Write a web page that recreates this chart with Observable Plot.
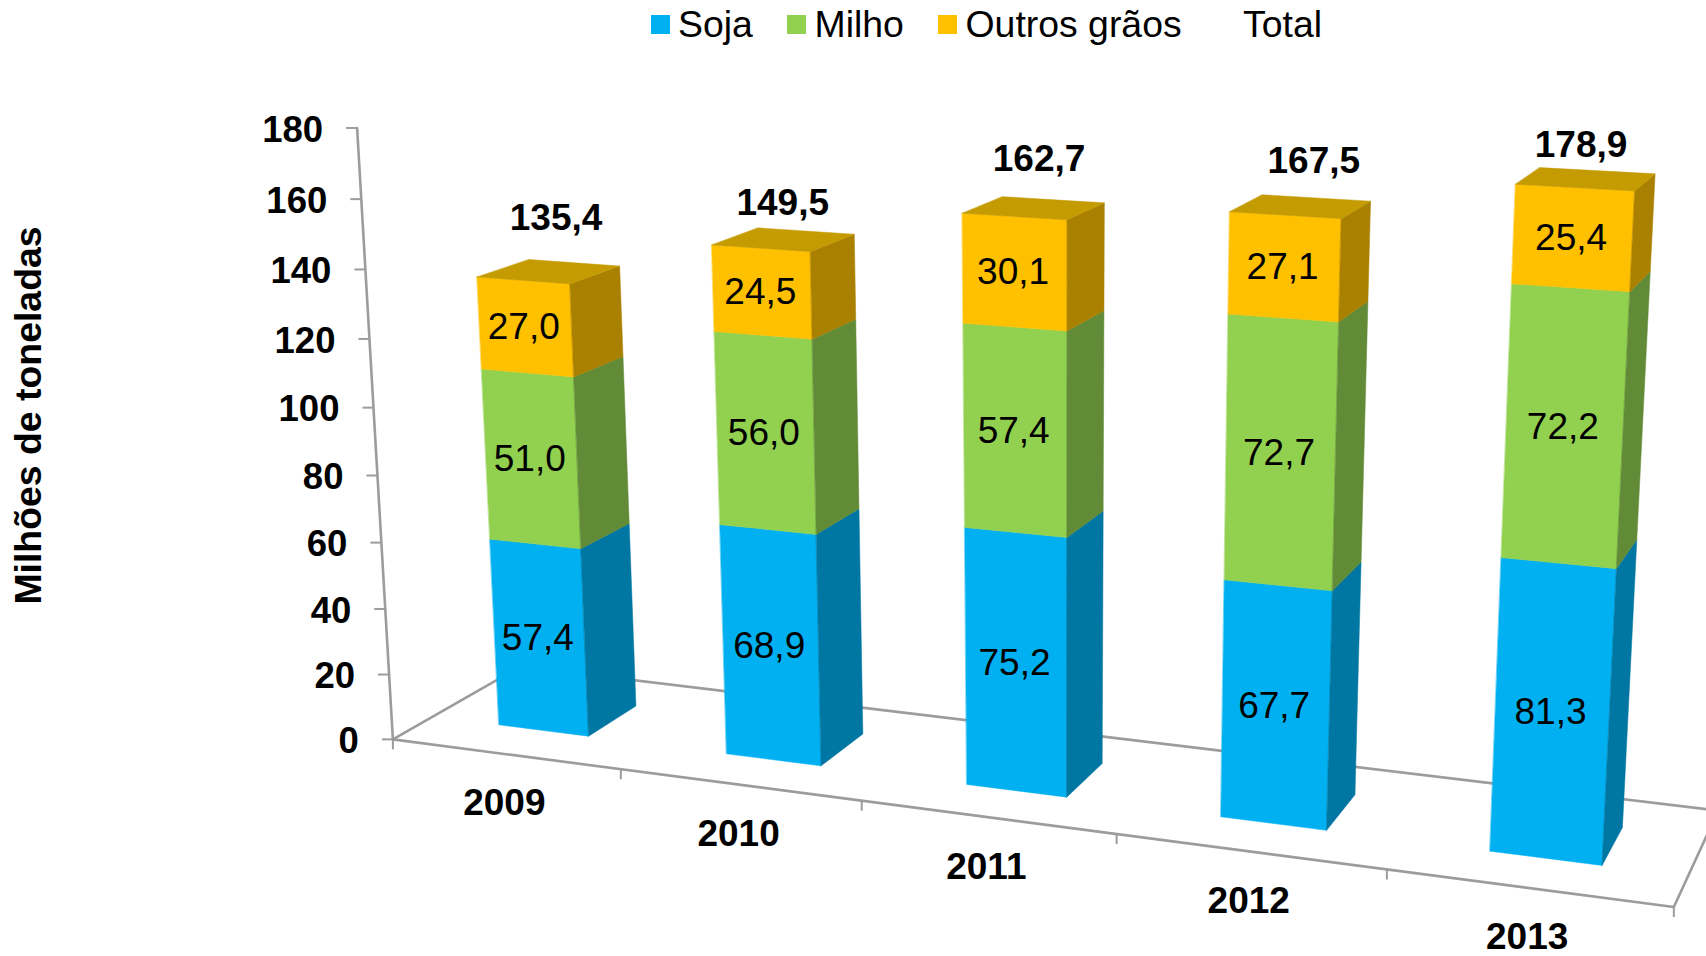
<!DOCTYPE html>
<html><head><meta charset="utf-8">
<script src="https://cdn.jsdelivr.net/npm/d3@7"></script>
<script src="https://cdn.jsdelivr.net/npm/@observablehq/plot@0.6"></script>
<style>html,body{margin:0;background:#fff}
.lg{position:absolute;font:37.4px "Liberation Sans";line-height:40px;top:4px;color:#000;white-space:nowrap}.sw{position:absolute;top:15px;width:19px;height:19px}svg{display:block}</style>
</head><body><div id="c"></div>
<script>
// Data
const years=["2009","2010","2011","2012","2013"];
const soja=[57.4,68.9,75.2,67.7,81.3];
const milho=[51.0,56.0,57.4,72.7,72.2];
const outros=[27.0,24.5,30.1,27.1,25.4];
const totals=[135.4,149.5,162.7,167.5,178.9];
const seriesNames=["Soja","Milho","Outros grãos"];
const seriesValues=[soja,milho,outros];
const yTicks=[0,20,40,60,80,100,120,140,160,180];

// Perspective camera of the 3-D chart: (category slot, value/100, depth) -> page pixels
const camera=[[211.332,-29.989,166.049,392.388],[9.228,-343.279,-23.380,738.865],[-0.0268071,-0.0283544,0.0742617,1]];
const gap=0.3;
function project(X,V,Z){const p=[X,V/100,Z,1],dot=r=>d3.sum(r,(c,i)=>c*p[i]),d=dot(camera[2]);return [dot(camera[0])/d,dot(camera[1])/d];}

const faceColor={Soja:["#00B0F0","#0076A3"],Milho:["#92D050","#618B37"],"Outros grãos":["#FFC000","#AA8000"]},topColor="#C49B00";
const polys=[],labels=[];
function poly(id,color,corners){corners.forEach(c=>{const [x,y]=project(...c);polys.push({id,color,x,y});});}
const fmt=v=>v.toFixed(1).replace(".",",");
years.forEach((yr,i)=>{let base=0;const L=i+gap,R=i+1-gap,F=gap,B=1-gap;
 seriesNames.forEach((s,k)=>{const v=seriesValues[k][i],t=base+v;
  poly(`${yr}-${s}-f`,faceColor[s][0],[[L,base,F],[R,base,F],[R,t,F],[L,t,F]]);
  poly(`${yr}-${s}-s`,faceColor[s][1],[[R,base,F],[R,base,B],[R,t,B],[R,t,F]]);
  const [x,y]=project(i+.5,base+v/2,F);labels.push({x:x-1.5,y,text:fmt(v)});
  base=t;});
 poly(`${yr}-top`,topColor,[[L,base,F],[R,base,F],[R,base,B],[L,base,B]]);
});
const totalNudge=[[7,-55],[-1,-38],[5,-51],[13,-47],[-5,-36]];
const totalLabels=years.map((yr,i)=>{const top=d3.sum(seriesValues,s=>s[i]);const [x,y]=project(i+.5,top,.5);return {x:x+totalNudge[i][0],y:y+totalNudge[i][1],text:fmt(totals[i])};});
const yearLabels=years.map((yr,i)=>{const [x,y]=project(i+.5,0,0);return {x:x-1,y:y+47.5,text:yr};});
const tickLabels=yTicks.map(v=>{const [x,y]=project(0,v,0);return {x:x-34,y,text:String(v)};});
const yTickLines=yTicks.map(v=>{const [x,y]=project(0,v,0);return {x1:x,y1:y,x2:x-11,y2:y};});
const xTickLines=d3.range(0,6).map(i=>{const [x,y]=project(i,0,0);return {x1:x,y1:y,x2:x,y2:y+10};});
const line=a=>a.map(c=>{const [x,y]=project(...c);return {x,y};});
const gray="#9C9C9C";
const lineOpt={x:"x",y:"y",stroke:gray,strokeWidth:2.6};
const linkOpt={x1:"x1",y1:"y1",x2:"x2",y2:"y2",stroke:gray,strokeWidth:2};
const font={fontFamily:"Liberation Sans",fontSize:37,fill:"#000",dy:2};
const chart=Plot.plot({width:1706,height:956,margin:0,
 x:{axis:null,domain:[0,1706],range:[0,1706]},y:{axis:null,domain:[0,956],range:[0,956]},color:{type:"identity"},
 marks:[
  Plot.line(line([[0,180,0],[0,0,0],[5,0,0]]),lineOpt),
  Plot.line(line([[0,0,0],[0,0,1],[5,0,1],[5,0,0]]),lineOpt),
  Plot.link(yTickLines,linkOpt),Plot.link(xTickLines,linkOpt),
  Plot.line(polys,{x:"x",y:"y",z:"id",fill:"color",stroke:"color",strokeWidth:.5,curve:"linear-closed"}),
  Plot.text(labels,{x:"x",y:"y",text:"text",...font,dy:0}),
  Plot.text(totalLabels,{x:"x",y:"y",text:"text",...font,fontWeight:"bold"}),
  Plot.text(yearLabels,{x:"x",y:"y",text:"text",...font,fontWeight:"bold"}),
  Plot.text(tickLabels,{x:"x",y:"y",text:"text",...font,fontSize:36.5,fontWeight:"bold",textAnchor:"end"}),
  Plot.text(["Milhões de toneladas"],{x:[29],y:[413],text:d=>d,rotate:-90,...font,fontSize:37.4,fontWeight:"bold"})
 ]});
document.getElementById("c").appendChild(chart);
const legend=[["Soja",651,678,"#00B0F0"],["Milho",787,814.5,"#92D050"],["Outros grãos",938,965.5,"#FFC000"],["Total",null,1243,null]];
legend.forEach(([t,sx,tx,c])=>{if(c){const s=document.createElement("div");s.className="sw";s.style.left=sx+"px";s.style.background=c;document.body.appendChild(s);}
 const e=document.createElement("div");e.className="lg";e.style.left=tx+"px";e.textContent=t;document.body.appendChild(e);});
</script></body></html>
